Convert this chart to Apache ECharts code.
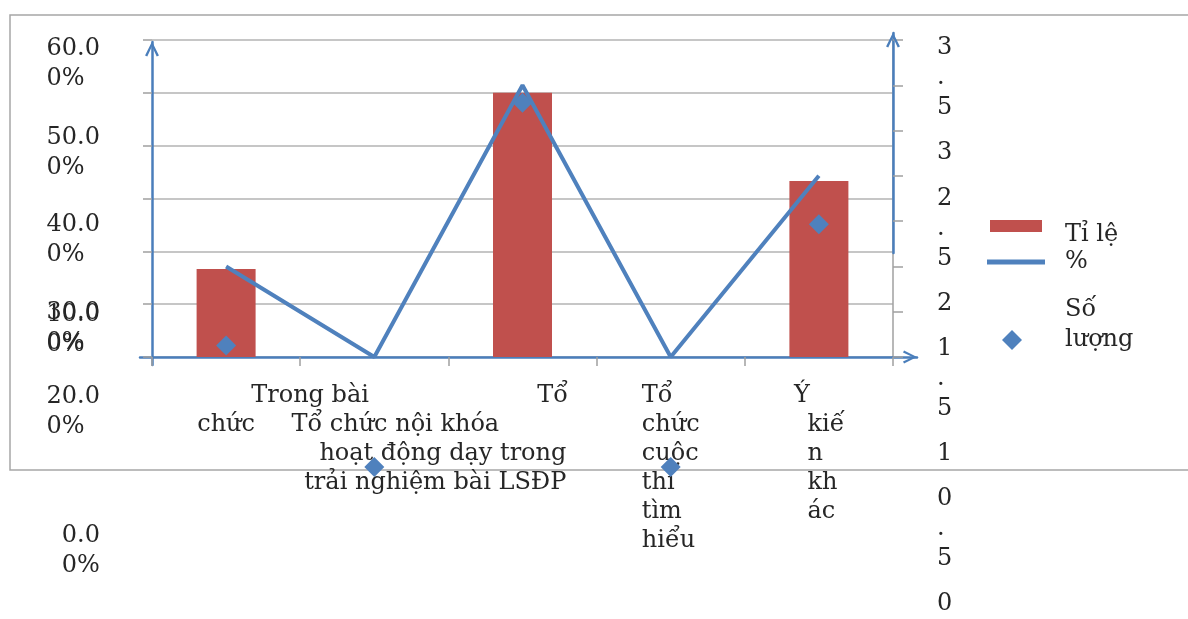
<!DOCTYPE html>
<html><head><meta charset="utf-8">
<script src="https://cdn.jsdelivr.net/npm/echarts@6/dist/echarts.min.js"></script>
<style>html,body{margin:0;padding:0;background:#fff}#c{width:1188px;height:619px}</style>
</head><body><div id="c"></div>
<script>
// ---- data ----
const categoryLinesA = ['Trong bài', 'Tổ chức nội khóa', 'Tổ', 'Tổ\nchức\ncuộc\nthi\ntìm\nhiểu', 'Ý'];
const categoryLinesB = ['chức', 'hoạt động dạy trong\ntrải nghiệm bài LSĐP', '', ' ', 'kiế\nn\nkh\nác'];
const percentValues = [16.67, 0, 50, 0, 33.33];
const countValues = [1, 0, 3, 0, 2];
const leftTickLabels = ['60.00%', '50.00%', '40.00%', '30.00%', '20.00%', '10.00%', '0.00%'];
const rightTickValues = [0, 0.5, 1, 1.5, 2, 2.5, 3, 3.5];
const seriesNames = ['Tỉ lệ %', 'Số lượng (đường)', 'Số lượng'];
const legendLabels = ['Tỉ lệ', '%', 'Số\nlượng'];

// ---- layout / style ----
const leftTickLabelY = [64, 153, 240, 328, 412, 330, 551];
const stylesA = [
  {align: 'center', padding: [0, 0, 0, 168]},
  {align: 'center', padding: [29, 0, 0, 42]},
  {align: 'center', padding: [0, 0, 0, 60]},
  {align: 'center', padding: [0, 0, 0, 0]},
  {align: 'center', padding: [0, 34, 0, 0]}
];
const stylesB = [
  {align: 'center', padding: [29, 0, 0, 0]},
  {align: 'center', padding: [58, 0, 0, 122]},
  {align: 'center'},
  {align: 'center'},
  {align: 'center', padding: [29, 0, 0, 14]}
];
const tagsA = [null, null, null, 'l', null];
const tagsB = [null, 'r', null, null, 'l'];

const FONT = 'DejaVu Serif';
const FS = 24;
const TXT = '#262626';
const BLUE = '#4a7ebb';
const SER_BLUE = '#4f81bd';
const RED = '#c0504d';
const GRID_GRAY = '#b3b3b3';
const AX_GRAY = '#a0a0a0';
const CHEVRON = 'path://M0,10 L5,0 L10,10 L8.4,10.8 L5,3.4 L1.6,10.8 Z';

const rich = {
  l: {align: 'left', fontFamily: FONT, fontSize: FS, lineHeight: 29, color: TXT},
  r: {align: 'right', fontFamily: FONT, fontSize: FS, lineHeight: 29, color: TXT}
};
function catFormatter(tags) {
  return function (v, i) {
    const t = tags[i];
    if (!t) return v;
    return v.split('\n').map(s => '{' + t + '|' + s + '}').join('\n');
  };
}

const chart = echarts.init(document.getElementById('c'), null, {renderer: 'canvas'});
chart.setOption({
  animation: false,
  backgroundColor: '#ffffff',
  graphic: [{type: 'rect', z: -10, silent: true, shape: {x: 10, y: 15, width: 1200, height: 455},
    style: {fill: 'none', stroke: '#a6a6a6', lineWidth: 1.5}}],
  grid: [
    {left: 152, right: 295, top: 40, bottom: 262},   // 0 main
    {left: 152, right: 295, top: 42, bottom: 152},   // 1 markers
    {left: 110, right: 1000, top: 0, bottom: 0},     // 2 left labels
    {left: 152, right: 295, top: 78, bottom: 9},     // 3 right labels
    {left: 140, right: 271, top: 40, bottom: 262},   // 4 x axis line
    {left: 152, right: 295, top: 42, bottom: 254},   // 5 left axis line
    {left: 152, right: 295, top: 33, bottom: 366}    // 6 right axis line
  ],
  legend: [
    {data: [seriesNames[0]], left: 990, top: 205, padding: 0, orient: 'vertical', icon: 'rect',
      itemWidth: 52, itemHeight: 12, formatter: () => '\n' + legendLabels[0],
      textStyle: {fontFamily: FONT, fontSize: FS, lineHeight: 18, color: TXT, padding: [0, 0, 0, 18]}},
    {data: [seriesNames[1]], left: 987, top: 249, padding: 0, orient: 'vertical', icon: 'rect',
      itemWidth: 58, itemHeight: 5, formatter: () => legendLabels[1],
      textStyle: {fontFamily: FONT, fontSize: FS, lineHeight: 26, color: TXT, padding: [0, 0, 0, 15]}},
    {data: [seriesNames[2]], left: 1002, top: 295, padding: 0, orient: 'vertical', icon: 'diamond',
      itemWidth: 20, itemHeight: 20, formatter: () => legendLabels[2] + '\n',
      textStyle: {fontFamily: FONT, fontSize: FS, lineHeight: 30, color: TXT, padding: [0, 0, 0, 38]}}
  ],
  xAxis: [
    {gridIndex: 0, type: 'category', position: 'bottom',
      data: categoryLinesA.map((t, i) => ({value: t, textStyle: stylesA[i]})),
      axisLine: {show: false},
      axisTick: {show: true, length: 9, lineStyle: {color: AX_GRAY, width: 1.5}},
      axisLabel: {interval: 0, margin: 24, fontFamily: FONT, fontSize: FS, lineHeight: 29, color: TXT,
        formatter: catFormatter(tagsA), rich: rich},
      splitLine: {show: false}},
    {gridIndex: 0, type: 'category', position: 'bottom',
      data: categoryLinesB.map((t, i) => ({value: t, textStyle: stylesB[i]})),
      axisLine: {show: false}, axisTick: {show: false},
      axisLabel: {interval: 0, margin: 24, fontFamily: FONT, fontSize: FS, lineHeight: 29, color: TXT,
        formatter: catFormatter(tagsB), rich: rich},
      splitLine: {show: false}},
    {gridIndex: 1, type: 'category', data: categoryLinesA, show: false},
    {gridIndex: 2, type: 'value', show: false},
    {gridIndex: 3, type: 'value', show: false},
    {gridIndex: 4, type: 'value', min: 0, max: 1, position: 'bottom',
      axisLine: {show: true, onZero: false, symbol: ['none', CHEVRON], symbolSize: [19, 14], symbolOffset: [0, -7],
        lineStyle: {color: BLUE, width: 2.5}},
      axisTick: {show: false}, axisLabel: {show: false}, splitLine: {show: false}},
    {gridIndex: 5, type: 'value', show: false},
    {gridIndex: 6, type: 'value', show: false}
  ],
  yAxis: [
    {gridIndex: 0, type: 'value', min: 0, max: 60, interval: 10, position: 'left',
      axisLine: {show: false},
      axisTick: {show: true, length: 9, lineStyle: {color: AX_GRAY, width: 1.5}},
      axisLabel: {show: false},
      splitLine: {show: true, lineStyle: {color: GRID_GRAY, width: 1.5}}},
    {gridIndex: 0, type: 'value', min: 0, max: 3.5, interval: 0.5, position: 'right',
      axisLine: {show: true, lineStyle: {color: AX_GRAY, width: 1.5}},
      axisTick: {show: true, length: 10, lineStyle: {color: AX_GRAY, width: 1.5}},
      axisLabel: {show: false}, splitLine: {show: false}},
    {gridIndex: 1, type: 'value', min: 0, max: 3.5, show: false},
    {gridIndex: 2, type: 'value', min: 0, max: 619, inverse: true, position: 'left',
      axisLine: {show: false}, axisTick: {show: false}, splitLine: {show: false},
      axisLabel: {show: true, margin: 10, customValues: leftTickLabelY, fontFamily: FONT, fontSize: FS,
        lineHeight: 30, color: TXT,
        formatter: function (v) {
          const s = leftTickLabels[leftTickLabelY.indexOf(v)] || '';
          return '{l|' + s.slice(0, -2) + '}\n{l|' + s.slice(-2) + '}';
        },
        rich: {l: {align: 'left', fontFamily: FONT, fontSize: FS, lineHeight: 30, color: TXT}}}},
    {gridIndex: 3, type: 'value', min: 0, max: 3.5, interval: 0.5, position: 'right',
      axisLine: {show: false}, axisTick: {show: false}, splitLine: {show: false},
      axisLabel: {show: true, margin: 44, align: 'left', fontFamily: FONT, fontSize: FS, lineHeight: 30, color: TXT,
        customValues: rightTickValues,
        formatter: v => String(v).split('').join('\n')}},
    {gridIndex: 4, type: 'value', min: 0, max: 1, show: false},
    {gridIndex: 5, type: 'value', min: 0, max: 1, position: 'left',
      axisLine: {show: true, onZero: false, symbol: ['none', CHEVRON], symbolSize: [21, 15], symbolOffset: [0, -7],
        lineStyle: {color: BLUE, width: 2.5}},
      axisTick: {show: false}, axisLabel: {show: false}, splitLine: {show: false}},
    {gridIndex: 6, type: 'value', min: 0, max: 1, position: 'right',
      axisLine: {show: true, onZero: false, symbol: ['none', CHEVRON], symbolSize: [21, 15], symbolOffset: [0, -7],
        lineStyle: {color: BLUE, width: 2.5}},
      axisTick: {show: false}, axisLabel: {show: false}, splitLine: {show: false}}
  ],
  series: [
    {name: seriesNames[0], type: 'bar', xAxisIndex: 0, yAxisIndex: 0, data: percentValues,
      barWidth: 59, itemStyle: {color: RED}, z: 2},
    {name: seriesNames[1], type: 'line', xAxisIndex: 0, yAxisIndex: 1, data: countValues,
      symbol: 'none', lineStyle: {color: SER_BLUE, width: 4}, itemStyle: {color: SER_BLUE}, z: 3},
    {name: seriesNames[2], type: 'scatter', xAxisIndex: 2, yAxisIndex: 2, data: countValues,
      symbol: 'diamond', symbolSize: 20, itemStyle: {color: SER_BLUE, opacity: 1}, z: 5}
  ]
});
</script></body></html>
